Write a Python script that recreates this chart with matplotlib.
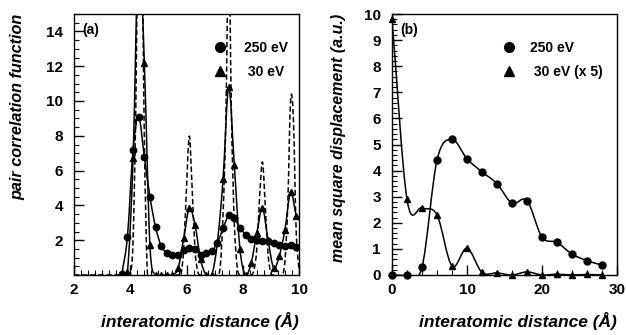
import numpy as np
import matplotlib
matplotlib.use("Agg")
import matplotlib.pyplot as plt
from matplotlib.path import Path
from matplotlib.patches import PathPatch
from matplotlib.lines import Line2D
from matplotlib.ticker import MultipleLocator

# ---- panel (a): pair correlation function ----
r_pts = [3.7, 3.9, 4.1, 4.3, 4.5, 4.7, 4.9, 5.1, 5.3, 5.5, 5.7, 5.9, 6.1, 6.3, 6.5, 6.7,
         6.9, 7.1, 7.3, 7.5, 7.7, 7.9, 8.1, 8.3, 8.5, 8.7, 8.9, 9.1, 9.3, 9.5, 9.7, 9.9]
g_250 = [0.05, 2.2, 7.2, 9.1, 6.8, 4.5, 2.75, 1.68, 1.28, 1.13, 1.13, 1.45, 1.55, 1.52, 1.15, 1.28,
         1.38, 1.85, 2.68, 3.42, 3.28, 2.72, 2.32, 2.08, 2.0, 1.95, 1.95, 1.83, 1.7, 1.64, 1.73, 1.62]
g_30 = [0.0, 0.2, 6.7, 19.0, 12.2, 1.7, 0.0, 0.0, 0.0, 0.0, 0.4, 2.1, 3.85, 2.9, 0.9, 0.0,
        0.0, 1.9, 5.5, 10.8, 6.3, 1.5, 0.0, 0.7, 2.4, 3.85, 2.0, 0.4, 1.1, 2.6, 4.75, 3.4]

# perfect crystal (dashed)
r_xtal = [2.0, 3.9, 4.0, 4.1, 4.2, 4.3, 4.4, 4.5, 4.6, 4.7,
          5.7, 5.8, 5.9, 6.0, 6.1, 6.2, 6.3, 6.4, 6.5,
          7.0, 7.1, 7.2, 7.3, 7.4, 7.5, 7.6, 7.7, 7.8, 7.9,
          8.3, 8.4, 8.5, 8.6, 8.7, 8.8, 8.9, 9.0, 9.1,
          9.4, 9.5, 9.6, 9.7, 9.8, 9.9, 10.0]
g_xtal = [0, 0, 0, 2.0, 10.0, 24.0, 22.0, 8.0, 0.5, 0,
          0, 0, 1.5, 5.0, 8.0, 5.0, 1.5, 0.2, 0,
          0, 0, 0.5, 3.5, 9.0, 19.0, 9.0, 3.0, 0.5, 0,
          0, 0.3, 1.5, 4.5, 6.5, 4.0, 1.2, 0.1, 0,
          0, 0.8, 4.0, 10.0, 9.0, 2.5, 0.3]

# ---- panel (b): mean square displacement ----
d_pts = [0, 2, 4, 6, 8, 10, 12, 14, 16, 18, 20, 22, 24, 26, 28]
msd_250 = [0, 0, 0.3, 4.4, 5.2, 4.45, 3.95, 3.5, 2.75, 2.85, 1.45, 1.25, 0.8, 0.55, 0.38]
msd_30 = [9.8, 2.9, 2.57, 2.3, 0.34, 1.03, 0.1, 0.08, 0.0, 0.12, 0.0, 0.03, 0.0, 0.02, 0.0]


def smooth_path(x, y):
    # cubic Hermite curve through the points, drawn as bezier segments
    x = np.asarray(x, float)
    y = np.asarray(y, float)
    n = len(x)
    m = np.empty(n)
    m[0] = (y[1] - y[0]) / (x[1] - x[0])
    m[-1] = (y[-1] - y[-2]) / (x[-1] - x[-2])
    m[1:-1] = (y[2:] - y[:-2]) / (x[2:] - x[:-2])
    verts = [(x[0], y[0])]
    codes = [Path.MOVETO]
    for i in range(n - 1):
        h = (x[i + 1] - x[i]) / 3
        verts += [(x[i] + h, y[i] + m[i] * h),
                  (x[i + 1] - h, y[i + 1] - m[i + 1] * h),
                  (x[i + 1], y[i + 1])]
        codes += [Path.CURVE4] * 3
    return Path(verts, codes)


def curve(ax, x, y, ls="-", lw=1.1):
    ax.add_patch(PathPatch(smooth_path(x, y), fill=False, ec="black", lw=lw, ls=ls))


plt.rcParams.update({
    "font.family": ["Liberation Sans", "DejaVu Sans"],
    "font.weight": "bold",
    "axes.linewidth": 1.0,
})

fig = plt.figure(figsize=(6.26, 3.35), dpi=100)
ax_a = fig.add_axes([74 / 626, 60 / 335, 225 / 626, 261 / 335])
ax_b = fig.add_axes([392 / 626, 60 / 335, 225 / 626, 261 / 335])

# (a)
curve(ax_a, r_xtal, g_xtal, ls=(0, (3.5, 1.8)))
curve(ax_a, r_pts, g_250)
curve(ax_a, r_pts, g_30)
ax_a.plot(r_pts, g_250, ls="none", marker="o", ms=4.6, color="black")
ax_a.plot(r_pts, g_30, ls="none", marker="^", ms=4.6, color="black")
ax_a.set_xlim(2, 10)
ax_a.set_ylim(0, 15)
ax_a.set_xticks([2, 4, 6, 8, 10])
ax_a.set_yticks([2, 4, 6, 8, 10, 12, 14])
ax_a.xaxis.set_minor_locator(MultipleLocator(0.25))
ax_a.yaxis.set_minor_locator(MultipleLocator(0.5))
ax_a.text(0.035, 0.94, "(a)", transform=ax_a.transAxes, fontsize=10,
          fontweight="bold", va="center", ha="left")
ax_a.set_ylabel("pair correlation function", loc="top", fontsize=11.7, fontstyle="italic",
                fontweight="bold")
ax_a.yaxis.set_label_coords(-0.215, 1.0)

# (b)
curve(ax_b, d_pts, msd_250)
curve(ax_b, d_pts, msd_30)
ax_b.plot(d_pts, msd_250, ls="none", marker="o", ms=5, color="black", clip_on=False)
ax_b.plot(d_pts, msd_30, ls="none", marker="^", ms=5, color="black", clip_on=False)
ax_b.set_xlim(0, 30)
ax_b.set_ylim(0, 10)
ax_b.set_xticks([0, 10, 20, 30])
ax_b.set_yticks(range(0, 11))
ax_b.xaxis.set_minor_locator(MultipleLocator(2))
ax_b.yaxis.set_minor_locator(MultipleLocator(0.2))
ax_b.text(0.035, 0.94, "(b)", transform=ax_b.transAxes, fontsize=10,
          fontweight="bold", va="center", ha="left")
ax_b.set_ylabel("mean square displacement (a.u.)", loc="top", fontsize=11.5,
                fontstyle="italic", fontweight="bold")
ax_b.yaxis.set_label_coords(-0.205, 1.0)

for ax in (ax_a, ax_b):
    ax.tick_params(which="both", direction="in", top=False, right=False,
                   labelsize=11)
    ax.tick_params(which="major", length=7, width=1)
    ax.tick_params(which="minor", length=3.5, width=0.8)
    ax.tick_params(axis="y", which="major", pad=8)
    ax.tick_params(axis="x", which="major", pad=6)
    for lab in ax.get_xticklabels() + ax.get_yticklabels():
        lab.set_fontweight("bold")
    ax.set_xlabel("interatomic distance (Å)", loc="right", fontsize=12.5,
                  fontstyle="italic", fontweight="bold")
    ax.xaxis.set_label_coords(1.0, -0.14)

h_circ = Line2D([], [], ls="none", marker="o", ms=7, color="black")
h_tri = Line2D([], [], ls="none", marker="^", ms=7, color="black")
ax_a.legend([h_circ, h_tri], ["250 eV", " 30 eV"], loc="upper left",
            bbox_to_anchor=(0.587, 0.925), frameon=False, borderpad=0,
            handlelength=1.0, handletextpad=1.2, labelspacing=0.75,
            prop={"weight": "bold", "size": 10})
ax_b.legend([h_circ, h_tri], ["250 eV", " 30 eV (x 5)"], loc="upper left",
            bbox_to_anchor=(0.458, 0.925), frameon=False, borderpad=0,
            handlelength=1.0, handletextpad=1.0, labelspacing=0.75,
            prop={"weight": "bold", "size": 10})

fig.savefig("out.png", dpi=100)
